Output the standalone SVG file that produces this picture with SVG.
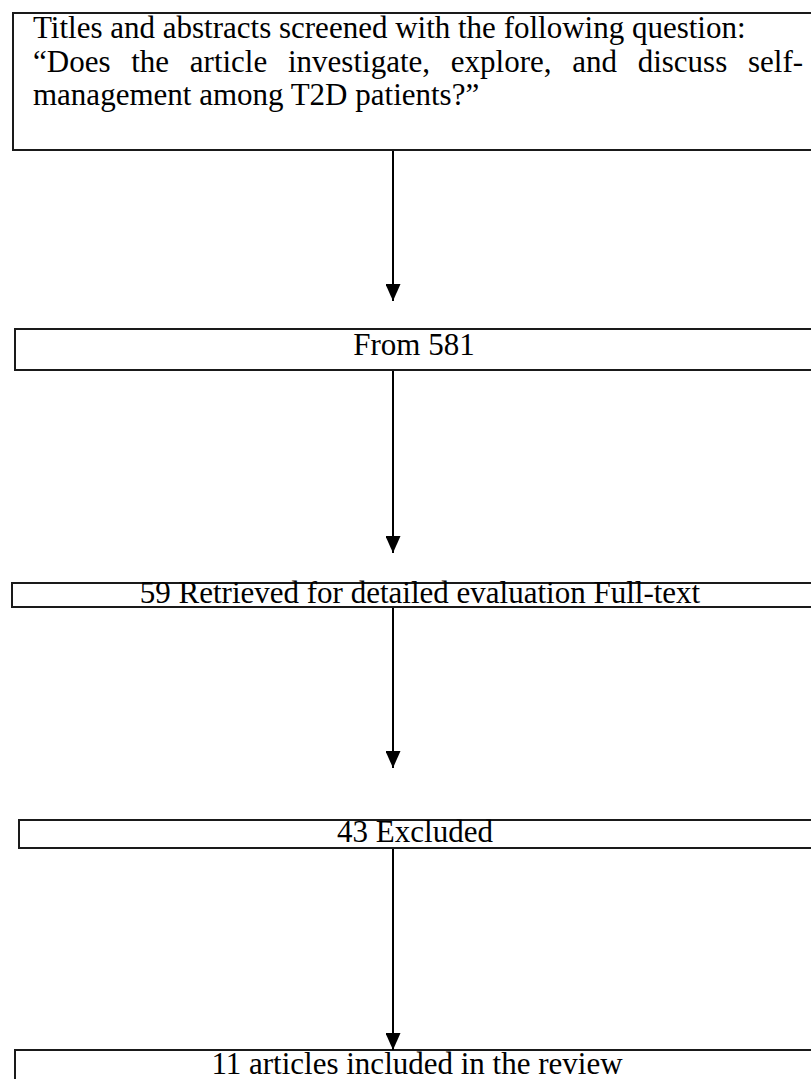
<svg xmlns="http://www.w3.org/2000/svg" width="811" height="1079" viewBox="0 0 811 1079">
<style>
.box{fill:#fff;stroke:#1a1a1a;stroke-width:2}
.t{font-family:"Liberation Serif","Times New Roman",serif;font-size:31px;fill:#000}
.c{text-anchor:middle}
.conn{stroke:#000;stroke-width:2;fill:none}
</style>
<defs>
<marker id="ah" markerUnits="userSpaceOnUse" markerWidth="17" markerHeight="15" refX="17" refY="7.5" orient="auto" viewBox="0 0 17 15">
<path d="M0,0 L17,7.5 L0,15 Z" fill="#000"/>
</marker>
</defs>
<rect width="811" height="1079" fill="#fff"/>
<g id="node1">
<rect class="box" x="13" y="13" width="820" height="137"/>
<text class="t" x="33" y="38">Titles and abstracts screened with the following question:</text>
<text class="t" y="72"><tspan x="33">“Does</tspan><tspan x="131.2">the</tspan><tspan x="189.8">article</tspan><tspan x="288">investigate,</tspan><tspan x="450.8">explore,</tspan><tspan x="572.2">and</tspan><tspan x="637.7">discuss</tspan><tspan x="748">self-</tspan></text>
<text class="t" x="33" y="105">management among T2D patients?”</text>
</g>
<g id="node2">
<rect class="box" x="15" y="329" width="820" height="41"/>
<text class="t c" x="414" y="355">From 581</text>
</g>
<g id="node3">
<rect class="box" x="12" y="583" width="820" height="24"/>
<text class="t c" x="420" y="603">59 Retrieved for detailed evaluation Full-text</text>
</g>
<g id="node4">
<rect class="box" x="19" y="820" width="820" height="28"/>
<text class="t c" x="415" y="842">43 Excluded</text>
</g>
<g id="node5">
<rect class="box" x="15" y="1050" width="820" height="60"/>
<text class="t c" x="417" y="1074">11 articles included in the review</text>
</g>
<g id="connectors">
<line class="conn" x1="393" y1="151" x2="393" y2="301" marker-end="url(#ah)"/>
<line class="conn" x1="393" y1="371" x2="393" y2="553" marker-end="url(#ah)"/>
<line class="conn" x1="393" y1="608" x2="393" y2="768" marker-end="url(#ah)"/>
<line class="conn" x1="393" y1="849" x2="393" y2="1050" marker-end="url(#ah)"/>
</g>
</svg>
